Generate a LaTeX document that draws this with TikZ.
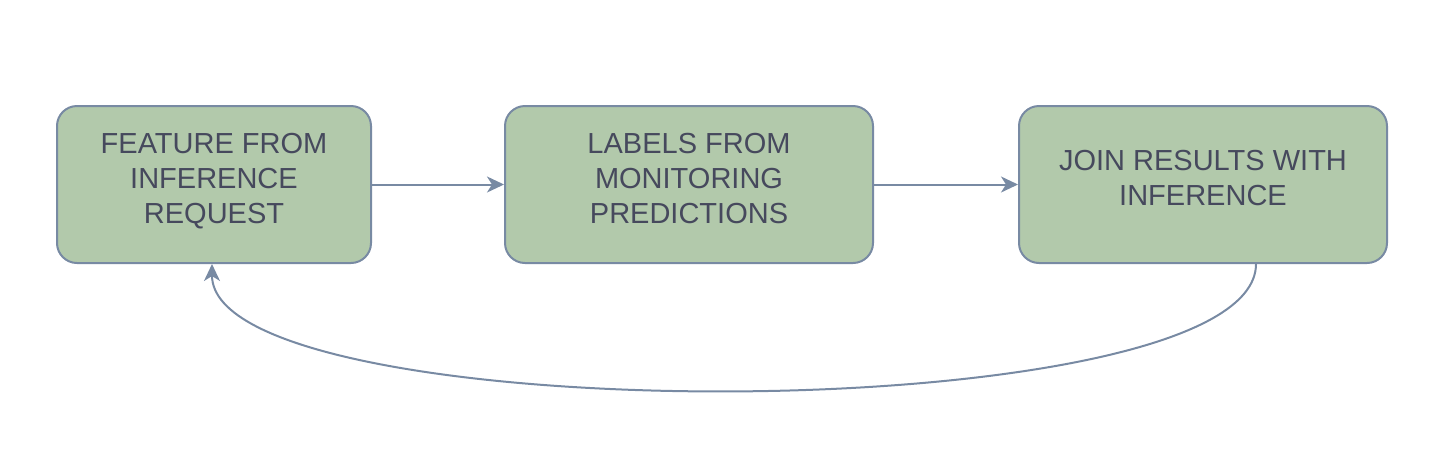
\documentclass[tikz,border=0pt]{standalone}
\usepackage{fontspec}
\setmainfont{Liberation Sans}
\usetikzlibrary{arrows.meta}
\definecolor{boxfill}{HTML}{B2C9AB}
\definecolor{boxline}{HTML}{788AA3}
\definecolor{boxtext}{HTML}{46495D}
\tikzset{
  procbox/.style={draw=boxline, fill=boxfill, line width=2pt, rounded corners=20pt,
    minimum height=157pt, inner sep=0pt},
  boxlabel/.style={align=center, text=boxtext, inner sep=0pt,
    font=\fontsize{29}{35}\selectfont},
  conn/.style={draw=boxline, line width=2pt,
    -{Stealth[length=17pt,width=16pt,inset=5pt]}}
}
\begin{document}
\begin{tikzpicture}[x=1pt,y=-1pt]
\useasboundingbox (0,0) rectangle (1451,448);
\node[procbox, minimum width=314pt] (b1) at (214,184.5) {};
\node[procbox, minimum width=368pt] (b2) at (689,184.5) {};
\node[procbox, minimum width=368pt] (b3) at (1203,184.5) {};
\node[boxlabel] (t1) at ([yshift=3pt]b1.center) {FEATURE FROM\\INFERENCE\\REQUEST};
\node[boxlabel] (t2) at ([yshift=6pt]b2.center) {LABELS FROM\\MONITORING\\PREDICTIONS};
\node[boxlabel] (t3) at ([yshift=6pt]b3.center) {JOIN RESULTS WITH\\INFERENCE};
\draw[conn] (b1.east) -- (b2.west);
\draw[conn] (b2.east) -- (b3.west);
\draw[conn] ([xshift=53pt]b3.south) .. controls +(0,168) and +(0,168) .. ([xshift=-2pt]b1.south);
\end{tikzpicture}
\end{document}
